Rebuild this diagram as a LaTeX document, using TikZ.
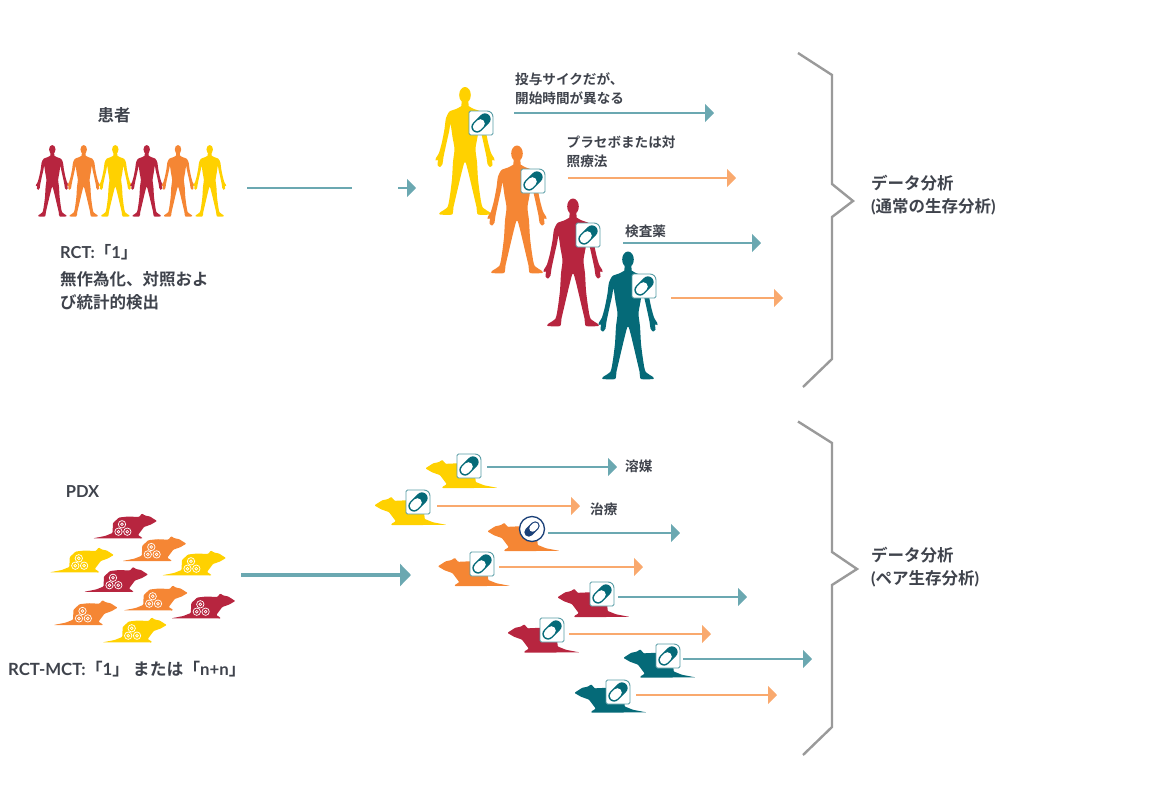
\documentclass[tikz,border=0pt]{standalone}
\usepackage{fontspec}
\setmainfont{Lato}
\newfontfamily\cjk[UprightFont=* Bold]{Noto Sans CJK JP}
\newcommand{\latn}[1]{{\rmfamily\bfseries #1}}
\usetikzlibrary{arrows.meta}
\definecolor{cred}{HTML}{B7253F}
\definecolor{corange}{HTML}{F58634}
\definecolor{cyellow}{HTML}{FFD100}
\definecolor{cteal}{HTML}{056A78}
\definecolor{ateal}{HTML}{6BA8B1}
\definecolor{aorange}{HTML}{F9A96E}
\definecolor{cgrey}{HTML}{9A9A9A}
\definecolor{ctext}{HTML}{3F434C}
\definecolor{cnavy}{HTML}{1B4078}
\tikzset{
    lab/.style={anchor=west,inner sep=0pt,align=left,text=ctext,font=\cjk\fontsize{13.6}{19.5}\selectfont},
    labbig/.style={lab,font=\cjk\fontsize{16.5}{23}\selectfont},
    tealarrow/.style={ateal,line width=1.6pt,-{Triangle[length=9pt,width=18pt]}},
    orangearrow/.style={aorange,line width=1.6pt,-{Triangle[length=9pt,width=18pt]}},
    brace/.style={cgrey,line width=2.4pt},
    pics/person/.style={code={
        \fill[#1] (0,8) ellipse (5.8 and 8);
        \fill[#1] plot[smooth,tension=.4] coordinates {(-2,14) (3.4,14.5) (3.6,19) (9,22) (15.5,24.5) (19,31) (20.5,42) (23,55) (26,66) (29,71) (29.5,73.5) (27,73) (27.5,78) (25,80) (22.5,77) (21.5,70) (18.5,56) (15.8,44) (14.5,37) (12.5,50) (10.5,62) (12,75) (13,92) (15,108) (17.5,120) (25,125.5) (25,127.5) (13,127.5) (11.5,120) (8,105) (4,88) (.8,76) (-2,73)} -- cycle;
        \begin{scope}[xscale=-1]
        \fill[#1] plot[smooth,tension=.4] coordinates {(-2,14) (3.4,14.5) (3.6,19) (9,22) (15.5,24.5) (19,31) (20.5,42) (23,55) (26,66) (29,71) (29.5,73.5) (27,73) (27.5,78) (25,80) (22.5,77) (21.5,70) (18.5,56) (15.8,44) (14.5,37) (12.5,50) (10.5,62) (12,75) (13,92) (15,108) (17.5,120) (25,125.5) (25,127.5) (13,127.5) (11.5,120) (8,105) (4,88) (.8,76) (-2,73)} -- cycle;
        \end{scope}
    }},
    pics/mouse/.style={code={
        \fill[#1,rounded corners=.8pt] (-32,12.3) -- (-20,10) -- (-12.5,7) -- (-12,-3) -- (-6,-8.5) -- (3,-9.5) -- (14,-9) -- (17,-12.5) -- (20,-10.5) -- (25,-9.5) -- (32,-5) -- (26,-1.5) -- (19,1) -- (13,9) -- (17,11.5) -- (17,12.5) -- cycle;
    }},
    pics/tumour/.style={code={
        \draw[white,line width=.7pt] (-3,-1.7) circle (3.7) (-3,-1.7) circle (1.4);
        \draw[white,line width=.7pt] (-6.5,5.7) circle (3.7) (-6.5,5.7) circle (1.4);
        \draw[white,line width=.7pt] (2.3,5.7) circle (3.7) (2.3,5.7) circle (1.4);
    }},
    pics/pillbox/.style={code={
        \draw[ateal!80!cteal,line width=.9pt,fill=white,rounded corners=1.5pt] (-12,12) -- (-12,-12) [rounded corners=6pt] -- (12,-12) [rounded corners=1.5pt] -- (12,12) -- cycle;
        \begin{scope}[rotate=45]
        \draw[cteal,line width=11.5pt,line cap=round] (-5.5,0) -- (5.5,0);
        \draw[white,line width=8.7pt,line cap=round] (-5.5,0) -- (-.8,0);
        \end{scope}
    }},
}
\begin{document}
\begin{tikzpicture}[x=1pt,y=-1pt]
\useasboundingbox (0,0) rectangle (1168,787);
% patients
\pic[scale=.56] at (52.3,145) {person=cred};
\pic[scale=.56] at (83.7,145) {person=corange};
\pic[scale=.56] at (115.3,145) {person=cyellow};
\pic[scale=.56] at (146.7,145) {person=cred};
\pic[scale=.56] at (178,145) {person=corange};
\pic[scale=.56] at (209.7,145) {person=cyellow};
\node[labbig,anchor=center] (patients) at (114,115) {患者};
\node[labbig] (rct) at (60,252) {\latn{RCT:}「\latn{1}」};
\node[labbig] (rctnote) at (60,290.5) {無作為化、対照およ\\び統計的検出};
\coordinate (p1) at (247,188);
\coordinate (p2) at (352,188);
\coordinate (p3) at (398,188);
\coordinate (p4) at (416,188);
\draw[ateal,line width=1.6pt] (p1) -- (p2);
\draw[tealarrow] (p3) -- (p4);
\pic at (465,87) {person=cyellow};
\pic at (517,145.5) {person=corange};
\pic at (573,198.5) {person=cred};
\pic at (628,251.5) {person=cteal};
\pic at (481,123) {pillbox};
\pic at (533,181) {pillbox};
\pic at (588,235) {pillbox};
\pic at (644,286) {pillbox};
\coordinate (a1) at (514,113);
\coordinate (b1) at (714,113);
\coordinate (a2) at (568,178);
\coordinate (b2) at (736,178);
\coordinate (a3) at (623,243);
\coordinate (b3) at (761,243);
\coordinate (a4) at (671,298);
\coordinate (b4) at (783,298);
\draw[tealarrow] (a1) -- (b1);
\draw[orangearrow] (a2) -- (b2);
\draw[tealarrow] (a3) -- (b3);
\draw[orangearrow] (a4) -- (b4);
\node[lab] (cycle) at (515,88.5) {投与サイクだが、\\開始時間が異なる};
\node[lab] (placebo) at (566.5,152) {プラセボまたは対\\照療法};
\node[lab] (testdrug) at (625,231) {検査薬};
% upper brace
\draw[brace] (798,53) -- (832,75) -- (832,184) -- (853,201) -- (832,217) -- (832,359) -- (803,387);
\node[labbig] (analysisa) at (871,195.5) {データ分析\\\latn{(}通常の生存分析\latn{)}};
% mice
\pic at (125,526) {mouse=cred};
\pic at (125,526) {tumour};
\pic at (154.3,548.7) {mouse=corange};
\pic at (154.3,548.7) {tumour};
\pic at (81.8,560) {mouse=cyellow};
\pic at (81.8,560) {tumour};
\pic at (194,563) {mouse=cyellow};
\pic at (194,563) {tumour};
\pic at (116,579.5) {mouse=cred};
\pic at (116,579.5) {tumour};
\pic at (155.7,598) {mouse=corange};
\pic at (155.7,598) {tumour};
\pic at (85.5,612.7) {mouse=corange};
\pic at (85.5,612.7) {tumour};
\pic at (203.3,606) {mouse=cred};
\pic at (203.3,606) {tumour};
\pic at (134.7,630) {mouse=cyellow};
\pic at (134.7,630) {tumour};
\node[labbig,anchor=center] (pdx) at (82.5,492) {\latn{PDX}};
\node[lab,font=\cjk\fontsize{16.8}{18}\selectfont] (rctmct) at (8,669) {\latn{RCT-MCT:}「\latn{1}」 または「\latn{n+n}」};
\coordinate (m1) at (241,575);
\coordinate (m2) at (411,575);
\draw[ateal,line width=4.5pt,-{Triangle[length=11pt,width=22pt]}] (m1) -- (m2);
\pic[xscale=-1.13,yscale=1.13] at (461.5,474) {mouse=cyellow};
\pic[xscale=-1.13,yscale=1.13] at (410.5,511) {mouse=cyellow};
\pic[xscale=-1.13,yscale=1.13] at (523.5,537) {mouse=corange};
\pic[xscale=-1.13,yscale=1.13] at (474,572) {mouse=corange};
\pic[xscale=-1.13,yscale=1.13] at (593.5,603) {mouse=cred};
\pic[xscale=-1.13,yscale=1.13] at (543.5,638.5) {mouse=cred};
\pic[xscale=-1.13,yscale=1.13] at (659.5,663.5) {mouse=cteal};
\pic[xscale=-1.13,yscale=1.13] at (610.5,698.5) {mouse=cteal};
\pic at (469,466) {pillbox};
\pic at (418,502) {pillbox};
\draw[cnavy,line width=1.3pt,fill=white] (532,529) circle (12.5);
\begin{scope}[shift={(532,529)},rotate=225]
\draw[cnavy,line width=9pt,line cap=round] (-4.5,0) -- (4.5,0);
\draw[white,line width=6.6pt,line cap=round] (-4.5,0) -- (-.8,0);
\end{scope}
\pic at (482,564) {pillbox};
\pic at (602,594) {pillbox};
\pic at (552,630) {pillbox};
\pic at (668,656) {pillbox};
\pic at (618,692) {pillbox};
\coordinate (c1) at (487,467);
\coordinate (d1) at (617,467);
\coordinate (c2) at (437,506);
\coordinate (d2) at (580,506);
\coordinate (c3) at (548,533);
\coordinate (d3) at (680,533);
\coordinate (c4) at (499,567);
\coordinate (d4) at (643,567);
\coordinate (c5) at (618,597);
\coordinate (d5) at (747,597);
\coordinate (c6) at (569,634);
\coordinate (d6) at (711,634);
\coordinate (c7) at (683,659);
\coordinate (d7) at (812,659);
\coordinate (c8) at (636,695);
\coordinate (d8) at (777,695);
\draw[tealarrow] (c1) -- (d1);
\draw[orangearrow] (c2) -- (d2);
\draw[tealarrow] (c3) -- (d3);
\draw[orangearrow] (c4) -- (d4);
\draw[tealarrow] (c5) -- (d5);
\draw[orangearrow] (c6) -- (d6);
\draw[tealarrow] (c7) -- (d7);
\draw[orangearrow] (c8) -- (d8);
\node[lab] (vehicle) at (625,466) {溶媒};
\node[lab] (treatment) at (590,509) {治療};
% lower brace
\draw[brace] (798,421.5) -- (832,443) -- (832,552) -- (857,569) -- (832,585) -- (832,727) -- (803,755);
\node[labbig] (analysisb) at (871,567.5) {データ分析\\\latn{(}ペア生存分析\latn{)}};
\end{tikzpicture}
\end{document}
